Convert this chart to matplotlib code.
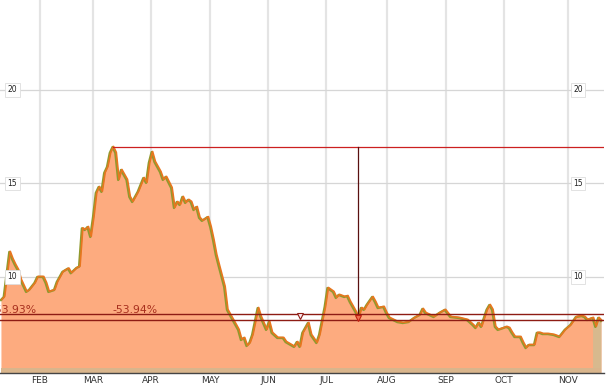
import numpy as np
import matplotlib.pyplot as plt

# trading-day index and closing price
days = [0, 1, 3, 4, 5, 6, 7, 9, 10, 12, 13, 15, 16, 17, 19, 20, 22, 24, 25, 27,
        28, 29, 30, 31, 32, 33, 34, 35, 36, 37, 38, 39, 40, 41, 42, 43, 45, 46, 47, 48,
        49, 51, 52, 53, 54, 55, 57, 58, 59, 61, 62, 63, 64, 65, 66, 67, 68, 69, 70, 71,
        72, 74, 75, 76, 77, 78, 80, 81, 83, 85, 86, 87, 88, 89, 90, 92, 93, 95, 96, 97,
        99, 101, 102, 105, 106, 107, 108, 110, 111, 113, 114, 116, 117, 119, 120, 121, 123, 124, 125, 126,
        127, 128, 129, 130, 131, 133, 134, 135, 137, 138, 139, 142, 144, 146, 148, 150, 151, 152, 155, 157,
        159, 161, 164, 167, 169, 170, 171, 172, 174, 175, 176, 177, 178, 180, 181, 182, 183, 184, 186, 187,
        188, 189, 191, 192, 193, 194, 196, 198, 200, 202, 204, 206, 208, 209, 210, 212, 213, 214, 215]
price = [8.77, 8.93, 11.34, 10.95, 10.64, 10.37, 9.84, 9.2, 9.3, 9.68, 10.0, 10.0, 9.68, 9.2, 9.3, 9.73, 10.27, 10.45, 10.2, 10.48,
         10.55, 12.6, 12.51, 12.67, 12.14, 13.2, 14.49, 14.81, 14.55, 15.56, 15.88, 16.63, 16.95, 16.63, 15.19, 15.72, 15.19, 14.28, 14.01, 14.28,
         14.55, 15.29, 15.03, 16.1, 16.68, 16.15, 15.61, 15.19, 15.35, 14.76, 13.69, 14.01, 13.85, 14.28, 13.96, 14.12, 14.01, 13.58, 13.74, 13.16,
         13.0, 13.2, 12.67, 11.98, 11.18, 10.6, 9.47, 8.24, 7.7, 7.17, 6.63, 6.74, 6.31, 6.47, 6.9, 8.34, 7.86, 7.17, 7.59, 7.01,
         6.74, 6.74, 6.52, 6.26, 6.52, 6.26, 7.01, 7.54, 6.9, 6.47, 6.9, 8.4, 9.41, 9.2, 8.88, 9.04, 8.93, 8.98, 8.66, 8.4,
         8.13, 7.81, 8.34, 8.24, 8.5, 8.93, 8.66, 8.34, 8.4, 8.07, 7.81, 7.59, 7.54, 7.59, 7.81, 7.97, 8.29, 8.07, 7.86, 8.07,
         8.24, 7.86, 7.81, 7.7, 7.43, 7.27, 7.54, 7.33, 8.24, 8.5, 8.24, 7.33, 7.17, 7.27, 7.33, 7.27, 7.01, 6.79, 6.79, 6.47,
         6.2, 6.36, 6.36, 7.01, 7.01, 6.95, 6.95, 6.9, 6.79, 7.17, 7.43, 7.86, 7.91, 7.86, 7.7, 7.81, 7.33, 7.81, 7.65]

month_pos = [14, 33, 53.8, 74.9, 95.7, 116.5, 138.4, 159.5, 180.3, 203.2]
month_lbl = ['FEB', 'MAR', 'APR', 'MAY', 'JUN', 'JUL', 'AUG', 'SEP', 'OCT', 'NOV']
y_ticks = [10, 15, 20]

peak_day, peak_val = 40, 16.95
trough_day, trough_val = 128, 7.81
band_levels = [8.02, 7.70]
drop_text = ['-53.93%', '-53.94%']
drop_text_day = [12.9, 40]
hollow_day, hollow_val = 107, 7.91
sel_start = 212.6

x = np.array(days)
y = np.array(price)

fig = plt.figure(figsize=(6.16, 3.89), dpi=100)
ax = fig.add_axes([0, 16 / 389, 604 / 616, 373 / 389])
ymin, ymax = 4.866, 24.81
xmin, xmax = -0.34, 216.1
ax.set_xlim(xmin, xmax)
ax.set_ylim(ymin, ymax)

# grid
for m in month_pos:
    ax.axvline(m, color='#e4e4e4', lw=1.6, zorder=0)
for t in y_ticks:
    ax.axhline(t, color='#d6d6d6', lw=0.9, zorder=0)

# area + lines
ax.fill_between(x, y, ymin, color='#fdab7f', lw=0, zorder=1)
sel = x >= sel_start - 0.6
ax.fill_between(x, y, ymin, where=sel, color='#d7b98e', lw=0, zorder=1.5)
ax.fill_between([x[0], x[-1]], ymin, 5.13, color='#d9b58c', lw=0, zorder=1.6)
ax.plot(x, y, color='#8f9a2e', lw=1.7, zorder=2)
ax.plot(x + 0.35, y + 0.03, color='#e8761f', lw=1.2, zorder=3)

# drawdown annotation
ax.plot([peak_day, xmax - 0.3], [peak_val, peak_val], color='#cc2020', lw=0.9, zorder=4)
ax.plot([trough_day, trough_day], [peak_val, trough_val], color='#5a1010', lw=0.9, zorder=4)
for lv in band_levels:
    ax.plot([xmin, xmax - 0.3], [lv, lv], color='#8e1c14', lw=1.0, zorder=4)
ax.plot(hollow_day, hollow_val, marker='v', ms=5, mfc='#fde8f0', mec='#8e1c14', mew=0.8, zorder=5)
ax.plot(trough_day, trough_val, marker='v', ms=5, mfc='#f07050', mec='#c02010', mew=0.8, zorder=5)
ax.text(drop_text_day[0], 8.24, drop_text[0], ha='right', va='center', fontsize=7.8, color='#a8301e', zorder=6)
ax.text(drop_text_day[1], 8.24, drop_text[1], ha='left', va='center', fontsize=7.8, color='#a8301e', zorder=6)

# boxed price labels on both sides
for t in y_ticks:
    for xf in (0.0207, 0.957):
        ax.text(xf, t, str(t), transform=ax.get_yaxis_transform(), ha='center', va='center',
                fontsize=5.5, color='#222222', zorder=7,
                bbox=dict(boxstyle='square,pad=0.3', fc='white', ec='#dddddd', lw=0.6))

ax.set_yticks([])
ax.set_xticks(month_pos)
ax.set_xticklabels(month_lbl, fontsize=6.5, color='#333333')
ax.tick_params(axis='x', length=0, pad=2)
for s in ['top', 'left', 'right']:
    ax.spines[s].set_visible(False)
ax.spines['bottom'].set_color('#444444')
ax.spines['bottom'].set_linewidth(1.0)
ax.spines['bottom'].set_clip_on(False)

fig.savefig('out.png', dpi=100)
